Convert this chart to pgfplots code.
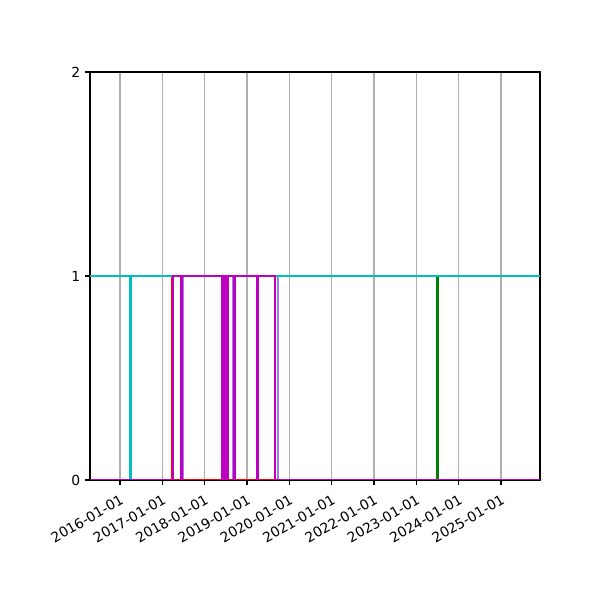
\documentclass[border=0pt]{standalone}
\usepackage{pgfplots}
\pgfplotsset{compat=1.18}
\usepackage{fontspec}
\setmainfont{DejaVu Sans}
\definecolor{mc}{rgb}{0.75,0,0.75}
\definecolor{cc}{rgb}{0,0.75,0.75}
\definecolor{gc}{rgb}{0,0.5,0}
\definecolor{bc}{rgb}{0.6,0.5,0.95}
\begin{document}
\begin{tikzpicture}
\path[use as bounding box] (0,0) rectangle (432pt,432pt);
\begin{axis}[
  at={(64.8pt,86.4pt)}, anchor=south west,
  scale only axis, width=324pt, height=293.76pt,
  xmin=2015.291, xmax=2025.922, ymin=0, ymax=2,
  xtick={2016,2017,2018,2019,2020,2021,2022,2023,2024,2025},
  xticklabels={2016-01-01,2017-01-01,2018-01-01,2019-01-01,2020-01-01,2021-01-01,2022-01-01,2023-01-01,2024-01-01,2025-01-01},
  ytick={0,1,2},
  xticklabel shift=5pt,
  xticklabel style={rotate=30, anchor=north east, inner sep=1pt, font=\fontsize{10}{12}\selectfont},
  yticklabel style={font=\fontsize{10}{12}\selectfont},
  /pgf/number format/assume math mode=true,
  tick align=outside, major tick length=3.5pt,
  xtick pos=left, ytick pos=left,
  tick style={black, line width=0.8pt},
  axis line style={line width=0.8pt},
  xmajorgrids, grid style={color=black!31, line width=0.8pt},
]
\addplot[gc, line width=1.5pt] coordinates {(2015.291,0)(2023.485,0)(2023.485,1)(2023.50,1)(2023.50,0)(2025.922,0)};
\addplot[bc, line width=1.5pt] coordinates {(2015.291,0)(2017.48,0)(2017.48,1)(2017.49,1)(2017.49,0)(2018.68,0)(2018.68,1)(2018.69,1)(2018.69,0)(2019.73,0)(2019.73,1)(2019.74,1)(2019.74,0)(2025.922,0)};
\addplot[red, line width=1.5pt] coordinates {(2015.291,0)(2017.232,0)(2017.232,1)(2017.242,1)(2017.242,0)(2025.922,0)};
\addplot[cc, line width=1.5pt] coordinates {(2015.291,1)(2016.232,1)(2016.232,0)(2016.248,0)(2016.248,1)(2025.922,1)};
\addplot[mc, line width=1.5pt] coordinates {(2015.291,0)(2017.252,0)(2017.252,1)(2017.445,1)(2017.445,0)(2017.46,0)(2017.46,1)
(2018.41,1)(2018.41,0)(2018.43,0)(2018.43,1)(2018.45,1)(2018.45,0)(2018.47,0)(2018.47,1)(2018.49,1)(2018.49,0)(2018.51,0)(2018.51,1)(2018.53,1)(2018.53,0)(2018.56,0)(2018.56,1)
(2018.695,1)(2018.695,0)(2018.71,0)(2018.71,1)(2019.235,1)(2019.235,0)(2019.25,0)(2019.25,1)(2019.665,1)(2019.665,0)(2025.922,0)};
\end{axis}
\end{tikzpicture}
\end{document}
